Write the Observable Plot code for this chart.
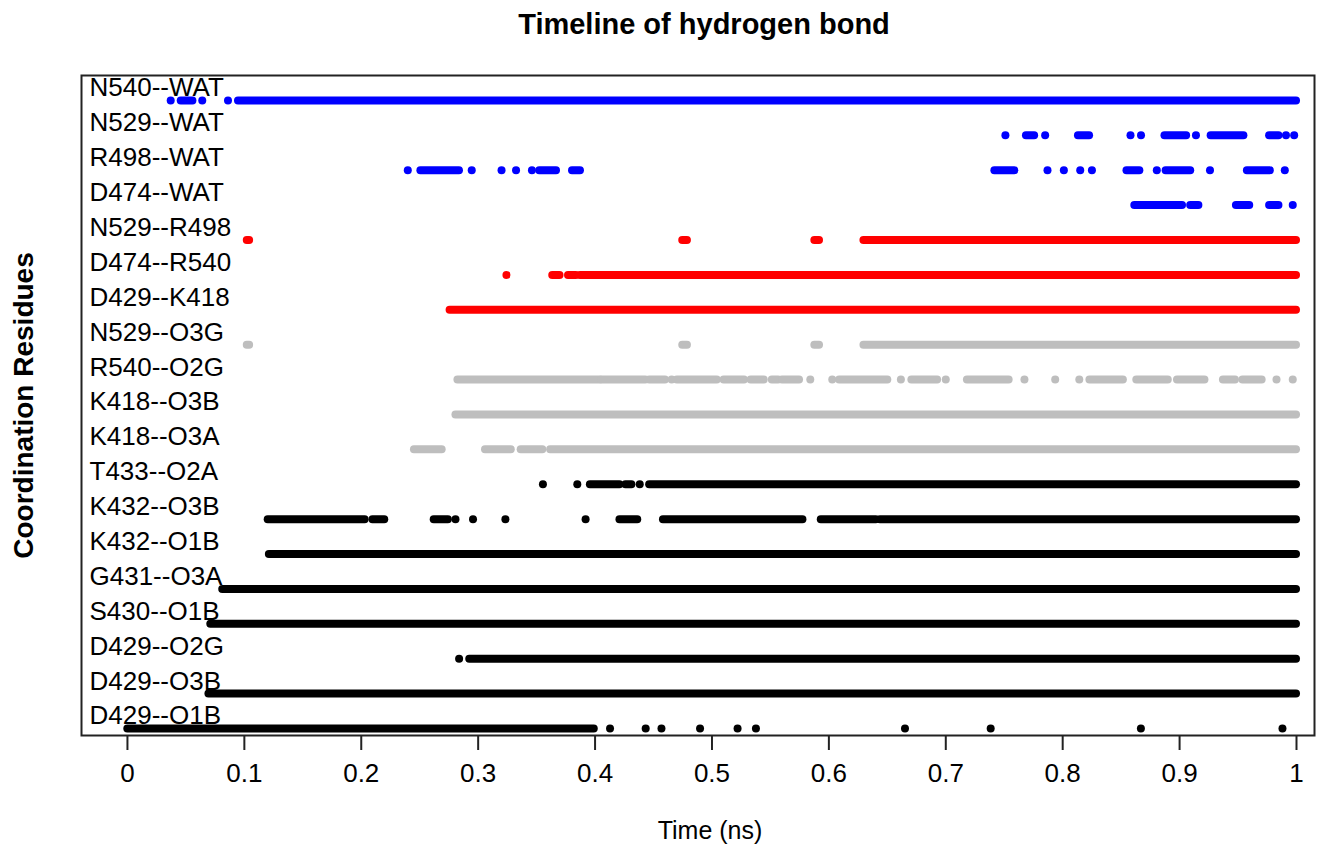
<!DOCTYPE html>
<html>
<head>
<meta charset="utf-8">
<script src="https://cdn.jsdelivr.net/npm/d3@7"></script>
<script src="https://cdn.jsdelivr.net/npm/@observablehq/plot@0.6"></script>
<style>
  html, body { margin: 0; padding: 0; background: #fff; }
</style>
</head>
<body>
<div id="chart"></div>
<script>
// Row labels, top to bottom
const rows = [
  "N540--WAT", "N529--WAT", "R498--WAT", "D474--WAT",
  "N529--R498", "D474--R540", "D429--K418",
  "N529--O3G", "R540--O2G", "K418--O3B", "K418--O3A",
  "T433--O2A", "K432--O3B", "K432--O1B", "G431--O3A",
  "S430--O1B", "D429--O2G", "D429--O3B", "D429--O1B"
];

// Colour of each row
const rowColors = [
  "#0000ff", "#0000ff", "#0000ff", "#0000ff",
  "#ff0000", "#ff0000", "#ff0000",
  "#bebebe", "#bebebe", "#bebebe", "#bebebe",
  "#000000", "#000000", "#000000", "#000000",
  "#000000", "#000000", "#000000", "#000000"
];

// Time intervals (ns) during which each hydrogen bond exists; [t] is a single frame
const intervals = [
  [[0.037],[0.046,0.056],[0.064],[0.086],[0.095,1.0]],
  [[0.751],[0.769,0.776],[0.785],[0.8135,0.823],[0.858],[0.867],[0.8875,0.906],[0.914],[0.927,0.955],[0.977,0.985],[0.991],[0.998]],
  [[0.2398],[0.251,0.284],[0.2945],[0.32],[0.3324],[0.346],[0.3527,0.367],[0.3807,0.3875],[0.742,0.759],[0.787],[0.801],[0.815],[0.825],[0.855,0.866],[0.8805],[0.8885,0.9095],[0.926],[0.958,0.9776],[0.99]],
  [[0.8617,0.9025],[0.9095,0.9165],[0.9486,0.960],[0.977,0.985],[0.9968]],
  [[0.1025,0.1045],[0.475,0.479],[0.588,0.592],[0.630,1.0]],
  [[0.3242],[0.3638,0.37],[0.3773,0.384],[0.3875,1.0]],
  [[0.276,1.0]],
  [[0.1025,0.1045],[0.475,0.479],[0.588,0.592],[0.630,1.0]],
  [[0.2827,0.4045],[0.406,0.4433],[0.4467,0.4602],[0.4655],[0.4703,0.5045],[0.5104,0.5278],[0.5335,0.5447],[0.5516,0.5569],[0.5603,0.5749],[0.5841],[0.6029],[0.6092,0.6504],[0.6616],[0.671,0.693],[0.700],[0.7185,0.7542],[0.7673],[0.7936],[0.8142],[0.8233,0.8519],[0.8634,0.8903],[0.8982,0.9217],[0.9375,0.9478],[0.9542,0.9706],[0.9829],[0.9968]],
  [[0.281,1.0]],
  [[0.2455,0.2692],[0.3063,0.3283],[0.3368,0.3553],[0.362,1.0]],
  [[0.3554],[0.3848],[0.396,0.4213],[0.4264,0.4315],[0.4382],[0.4467,1.0]],
  [[0.1204,0.2033],[0.21,0.2201],[0.2624,0.2745],[0.2806],[0.2956],[0.3233],[0.3919],[0.4213,0.4365],[0.4585,0.5778],[0.5935,0.6406],[0.6441,1.0]],
  [[0.1214,1.0]],
  [[0.0815,1.0]],
  [[0.0713,1.0]],
  [[0.2837],[0.2928,1.0]],
  [[0.0697,1.0]],
  [[0.0003,0.3993],[0.4128],[0.4433],[0.4568],[0.4898],[0.5219],[0.5376],[0.6651],[0.7384],[0.8669],[0.988]]
];

const timeTicks = [0, 0.1, 0.2, 0.3, 0.4, 0.5, 0.6, 0.7, 0.8, 0.9, 1];
const titleText = "Timeline of hydrogen bond";
const xLabel = "Time (ns)";
const yLabel = "Coordination Residues";

const segs = [];
rows.forEach((name, i) => {
  intervals[i].forEach(iv => {
    const start = iv[0], end = iv.length > 1 ? iv[1] : iv[0];
    segs.push({name, start, end, color: rowColors[i]});
  });
});

const font = "'Liberation Sans', Arial, Helvetica, sans-serif";

const chart = Plot.plot({
  width: 1323,
  height: 847,
  marginLeft: 81,
  marginRight: 9,
  marginTop: 75,
  marginBottom: 112,
  style: {fontFamily: font, fontSize: "25px", background: "#fff", color: "#000", overflow: "visible"},
  x: {domain: [-0.0393, 1.0154]},
  y: {type: "point", domain: rows, padding: 0.4585, align: 0.78, round: false, axis: null},
  color: {type: "identity"},
  marks: [
    Plot.text(rows, {y: d => d, text: d => d, frameAnchor: "left", dx: 8, dy: -4, lineAnchor: "bottom", textAnchor: "start", fontSize: 26, fill: "#000"}),
    Plot.ruleY(segs.filter(d => d.end > d.start), {y: "name", x1: "start", x2: "end", stroke: "color", strokeWidth: 8, strokeLinecap: "round"}),
    Plot.dot(segs.filter(d => d.end === d.start), {y: "name", x: "start", r: 4, fill: "color", stroke: null}),
    Plot.frame({stroke: "#222", strokeWidth: 2}),
    Plot.axisX({ticks: timeTicks, tickSize: 15, tickPadding: 13, stroke: "#222", strokeWidth: 2, label: null, fontSize: 26, tickFormat: d => String(d)}),
    Plot.text([titleText], {text: d => d, frameAnchor: "top", dx: 6, dy: -42, lineAnchor: "bottom", fontWeight: "bold", fontSize: 29}),
    Plot.text([xLabel], {text: d => d, frameAnchor: "bottom", dx: 12, dy: 103, lineAnchor: "bottom", fontSize: 25}),
    Plot.text([yLabel], {text: d => d, frameAnchor: "left", dx: -57, rotate: -90, textAnchor: "middle", fontWeight: "bold", fontSize: 28})
  ]
});

document.getElementById("chart").appendChild(chart);
</script>
</body>
</html>
